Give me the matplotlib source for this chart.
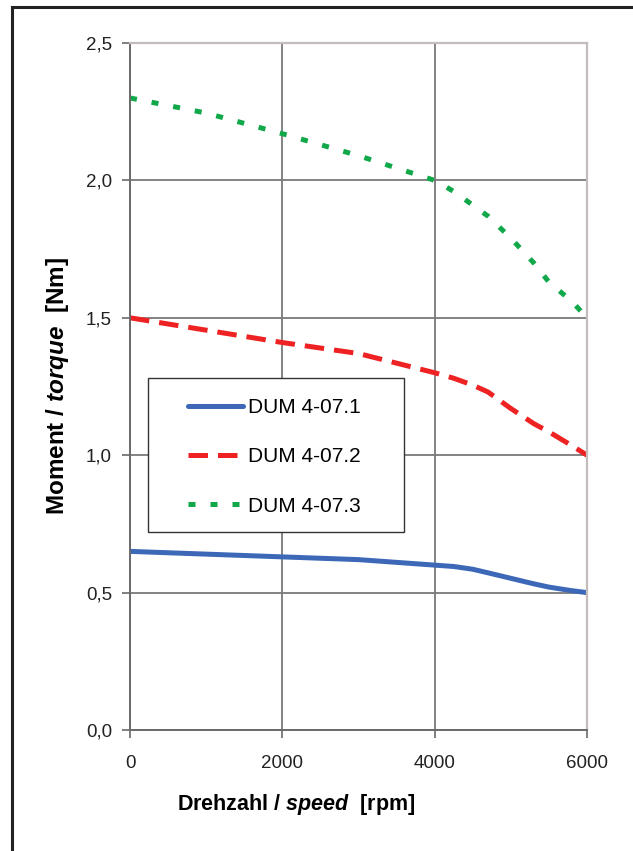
import matplotlib.pyplot as plt
from matplotlib.lines import Line2D
from matplotlib.patches import Rectangle
from matplotlib.ticker import FuncFormatter

plt.rcParams['font.family'] = ['Liberation Sans', 'DejaVu Sans']
plt.rcParams['mathtext.fontset'] = 'custom'
plt.rcParams['mathtext.bfit'] = 'Liberation Sans:italic:bold'
plt.rcParams['mathtext.rm'] = 'Liberation Sans:bold'

# Drehzahl in rpm, Moment in Nm
drehzahl = [0, 1000, 2000, 3000, 4000, 4250, 4500, 4700, 5000, 5300, 5500, 5800, 6000]
dum_071 = [0.65, 0.64, 0.63, 0.62, 0.60, 0.595, 0.585, 0.572, 0.552, 0.532, 0.52, 0.507, 0.50]
dum_072 = [1.50, 1.455, 1.41, 1.37, 1.30, 1.28, 1.255, 1.23, 1.17, 1.115, 1.085, 1.035, 1.00]
dum_073 = [2.30, 2.245, 2.17, 2.09, 2.00, 1.96, 1.91, 1.87, 1.79, 1.70, 1.63, 1.56, 1.50]
namen = ['DUM 4-07.1', 'DUM 4-07.2', 'DUM 4-07.3']

fig = plt.figure(figsize=(6.33, 8.51), dpi=100)
ax = fig.add_axes([130/633, 1-730/851, 457/633, 687/851])

# Rahmen um die Abbildung (nur links und oben sichtbar)
fig.add_artist(Line2D([12/633, 12/633], [0, 1-7/851], color='#222222', lw=2.2))
fig.add_artist(Line2D([12/633, 1], [1-7/851, 1-7/851], color='#222222', lw=2.2))

l1, = ax.plot(drehzahl, dum_071, color='#3d68b8', lw=3.6, solid_capstyle='round')
l2, = ax.plot(drehzahl, dum_072, color='#ee2222', lw=3.6, dashes=(3.9, 2.0))
l3, = ax.plot(drehzahl, dum_073, color='#11a84a', lw=3.6, dashes=(1.4, 3.0))

ax.set_xlim(0, 6000)
ax.set_ylim(0, 2.5)
ax.set_xticks([0, 2000, 4000, 6000])
ax.set_yticks([0, 0.5, 1.0, 1.5, 2.0, 2.5])
ax.yaxis.set_major_formatter(FuncFormatter(lambda v, p: f'{v:.1f}'.replace('.', ',')))
ax.grid(True, color='#7a7a7a', lw=1.3)
ax.set_axisbelow(True)
for s in ['top', 'right']:
    ax.spines[s].set_color('#c4bcbc')
    ax.spines[s].set_linewidth(1.6)
for s in ['left', 'bottom']:
    ax.spines[s].set_color('#6a6a6a')
    ax.spines[s].set_linewidth(1.4)
ax.tick_params(axis='both', direction='out', length=6, width=1.2, color='#6a6a6a',
               labelsize=13.5, labelcolor='#222222', pad=7)
ax.tick_params(axis='x', pad=12)

ax.set_xlabel(r'Drehzahl / $\mathbfit{speed}$  [rpm]', fontsize=15.5, fontweight='bold')
ax.xaxis.set_label_coords((296-130)/457, -(792-730)/687)
ax.set_ylabel(r'Moment / $\mathbfit{torque}$  [Nm]', fontsize=17.5, fontweight='bold')
ax.yaxis.set_label_coords(-(130-71)/457, 0.5)

# Legende ohne eigenen Rahmen, Rahmen separat
ax.add_patch(Rectangle(((148-130)/457, (730-532)/687), 256/457, 154/687,
                       transform=ax.transAxes, facecolor='white', edgecolor='#333333',
                       lw=1.0, zorder=4))
leg = ax.legend([l1, l2, l3], namen, loc='center left', bbox_to_anchor=((188-130)/457, (730-457)/687),
                fontsize=15, frameon=False, handlelength=2.65, handletextpad=0.25,
                labelspacing=1.45, borderpad=0, borderaxespad=0)
leg.set_zorder(5)

fig.savefig('out.png', dpi=100, facecolor='white')
